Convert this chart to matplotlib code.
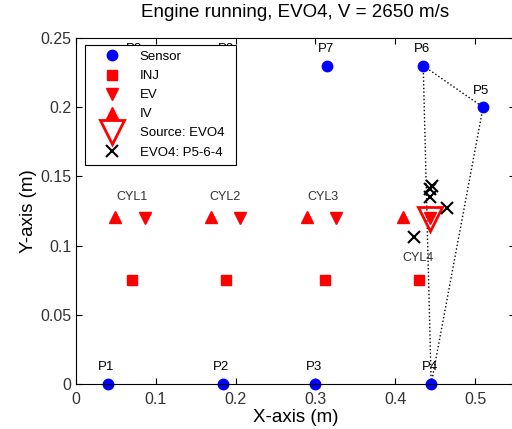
import matplotlib
matplotlib.use('Agg')
import matplotlib.pyplot as plt
import numpy as np

plt.rcParams['font.family'] = ['Liberation Sans', 'DejaVu Sans']

# sensors P1..P9
sensor_names = ['P1', 'P2', 'P3', 'P4', 'P5', 'P6', 'P7', 'P8', 'P9']
sensor_x = [0.040, 0.184, 0.300, 0.445, 0.510, 0.435, 0.315, 0.075, 0.190]
sensor_y = [0.0, 0.0, 0.0, 0.0, 0.200, 0.230, 0.230, 0.230, 0.230]

# cylinders
cyl_names = ['CYL1', 'CYL2', 'CYL3', 'CYL4']
cyl_label_x = [0.070, 0.187, 0.309, 0.428]
cyl_label_y = [0.135, 0.135, 0.135, 0.091]
inj_x = [0.070, 0.188, 0.312, 0.430]
inj_y = [0.075, 0.075, 0.075, 0.075]
ev_x = [0.086, 0.205, 0.326, 0.444]
ev_y = [0.120, 0.120, 0.120, 0.120]
iv_x = [0.049, 0.169, 0.290, 0.410]
iv_y = [0.121, 0.121, 0.121, 0.121]

# source and localisation results
src_x = [0.444]
src_y = [0.119]
loc_x = [0.446, 0.444, 0.443, 0.465, 0.424]
loc_y = [0.143, 0.141, 0.135, 0.127, 0.106]

# sensor triangle used (P5-6-4)
tri = ['P5', 'P6', 'P4']

fig = plt.figure(figsize=(5.12, 4.29), dpi=100)
ax = fig.add_axes([76/512, 45/429, 439/512, 346/429])

# dotted triangle between P5, P6, P4
idx = [sensor_names.index(n) for n in tri]
for a, b in [(1, 0), (1, 2), (0, 2)]:
    ax.plot([sensor_x[idx[a]], sensor_x[idx[b]]],
            [sensor_y[idx[a]], sensor_y[idx[b]]], ':', color='k', lw=1, zorder=1)

ax.plot(sensor_x, sensor_y, 'o', color='blue', ms=7.5, ls='none', label='Sensor', clip_on=False)
ax.plot(inj_x, inj_y, 's', color='red', ms=6.5, ls='none', label='INJ')
ax.plot(ev_x, ev_y, 'v', color='red', ms=8.5, ls='none', label='EV')
ax.plot(iv_x, iv_y, '^', color='red', ms=8.5, ls='none', label='IV')
ax.plot(src_x, src_y, 'v', mfc='none', mec='red', mew=2, ms=17, ls='none', label='Source: EVO4')
ax.plot(loc_x, loc_y, 'x', color='k', mew=1.5, ms=9, ls='none', label='EVO4: P5-6-4')

for n, x, y in zip(sensor_names, sensor_x, sensor_y):
    ax.text(x - 0.002, y + 0.012, n, ha='center', va='center', fontsize=9.5)
for n, x, y in zip(cyl_names, cyl_label_x, cyl_label_y):
    ax.text(x, y, n, ha='center', va='center', fontsize=9, color='#333333')

ax.set_xlim(0, 0.55)
ax.set_ylim(0, 0.25)
ax.set_xticks([0, 0.1, 0.2, 0.3, 0.4, 0.5])
ax.set_xticklabels(['0', '0.1', '0.2', '0.3', '0.4', '0.5'])
ax.set_yticks([0, 0.05, 0.1, 0.15, 0.2, 0.25])
ax.set_yticklabels(['0', '0.05', '0.1', '0.15', '0.2', '0.25'])
ax.tick_params(direction='in', top=True, right=True, labelsize=11.5,
               labelcolor='#333333', length=4)
ax.tick_params(axis='x', pad=6)
ax.set_xlabel('X-axis (m)', fontsize=13.5, labelpad=1)
ax.set_ylabel('Y-axis (m)', fontsize=13.5, labelpad=2)
ax.set_title('Engine running, EVO4, V = 2650 m/s', fontsize=13.5, pad=15)

leg = ax.legend(loc='upper left', bbox_to_anchor=(0.0205, 0.5, 0.344, 0.48),
                mode='expand', borderaxespad=0, fontsize=9.5, numpoints=1,
                fancybox=False, framealpha=1, edgecolor='k', labelspacing=0.52,
                handlelength=3.2, handletextpad=0.5, borderpad=0.45)
leg.get_frame().set_linewidth(0.8)

fig.savefig('out.png', dpi=100)
